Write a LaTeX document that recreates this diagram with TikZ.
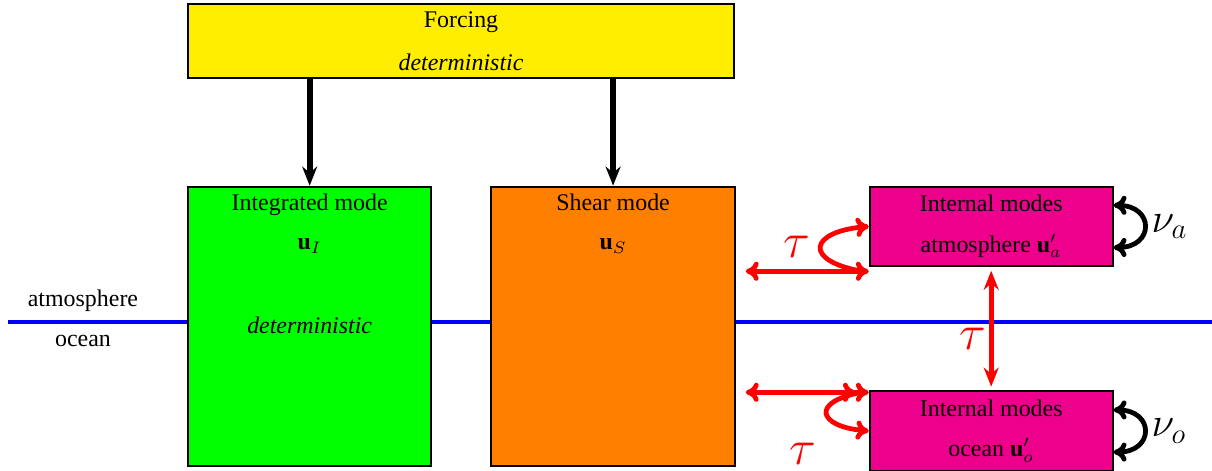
\documentclass[tikz,border=0pt]{standalone}
\usepackage{fontspec}
\setmainfont{Liberation Serif}
\usepackage{tikz}
\usetikzlibrary{positioning, arrows.meta, backgrounds, calc}
\definecolor{forcingyellow}{RGB}{255,238,0}
\definecolor{modegreen}{RGB}{0,255,0}
\definecolor{shearorange}{RGB}{255,128,0}
\definecolor{internalpink}{RGB}{236,0,140}
\definecolor{seablue}{RGB}{0,0,255}
\definecolor{Red}{rgb}{1,0,0}
\tikzstyle{box}=[%
      rectangle, draw=black, thick, align=center, inner sep=3pt
]
\tikzstyle{bigbox}=[%
      box, minimum width=3.58cm, minimum height=4.11cm
]
\tikzstyle{smallbox}=[%
      box, fill=internalpink, minimum width=3.57cm, minimum height=1.17cm
]
\tikzstyle{forcearrow}=[%
      line width=2.4pt, -{Stealth[length=2.8mm,width=2.2mm]}
]
\tikzstyle{taustress}=[%
      Red, line width=2pt
]
\tikzstyle{tautext}=[%
      text=Red, font=\huge
]
\tikzstyle{viscous}=[%
      black, line width=2pt, <->
]

\begin{document}
\begin{tikzpicture}[>={To[length=1.9mm,width=2.8mm]}]
    \useasboundingbox (0,0) rectangle (17.82,6.925);

    \node[box, fill=forcingyellow, minimum width=8.03cm, minimum height=1.06cm] (forcing) at (6.778,6.322)
         {Forcing\\[6pt]\textit{deterministic}};
    \node[bigbox, fill=modegreen, below=1.573cm of forcing.south west, anchor=north west] (integrated) {};
    \node[bigbox, fill=shearorange, right=0.853cm of integrated] (shear) {};
    \node[below=0pt of integrated.north, align=center] (integratedtext)
         {Integrated mode\\[4.3pt]$\mathbf{u}_I$\\[23pt]\textit{deterministic}};
    \node[below=0pt of shear.north, align=center] (sheartext)
         {Shear mode\\[4.3pt]$\mathbf{u}_S$};
    \node[smallbox, right=1.956cm of shear.north east, anchor=north west] (atmos)
         {Internal modes\\[5pt]atmosphere $\mathbf{u}'_a$};
    \node[smallbox, below=1.81cm of atmos] (ocean)
         {Internal modes\\[5pt]ocean $\mathbf{u}'_o$};

    % air-sea interface
    \coordinate (shore) at (0.118,2.191);
    \coordinate (horizon) at (17.82,2.191);
    \coordinate (interface) at (1.22,2.191);
    \begin{scope}[on background layer]
      \draw[seablue, line width=2pt] (shore) -- (horizon);
    \end{scope}
    \node[above=1pt of interface] (atmoslabel) {atmosphere};
    \node[below=2pt of interface] (oceanlabel) {ocean};

    \draw[forcearrow] (forcing.south -| integrated) -- (integrated);
    \draw[forcearrow] (forcing.south -| shear) -- (shear);

    % stress coupling
    \coordinate[below=0.06cm of atmos.south west] (atmoscorner);
    \coordinate[left=1.81cm of atmoscorner] (atmosstress);
    \coordinate[below=0.03cm of ocean.north west] (oceancorner);
    \coordinate[left=1.81cm of oceancorner] (oceanstress);
    \draw[taustress, <->] (atmosstress) -- (atmoscorner);
    \draw[taustress, ->] ([xshift=-0.1cm]atmoscorner) to[out=170, in=185, looseness=3.4]
         node[tautext, left] {$\tau$} (atmos.west);
    \draw[taustress, <->>] (oceanstress) -- (oceancorner);
    \draw[taustress, ->] ([xshift=-0.1cm]oceancorner) to[out=190, in=175, looseness=3.4] (ocean.west);
    \node[tautext, below left=0.06cm and 0.65cm of ocean.west] (oceantau) {$\tau$};
    \draw[taustress, {Stealth[length=2.8mm,width=2.2mm]}-{Stealth[length=2.8mm,width=2.2mm]},
          shorten <=1.5pt, shorten >=1.5pt] (atmos) --
         node[tautext, pos=0.58, left, inner sep=1pt] {$\tau$} (ocean);

    \draw[viscous] ([yshift=0.31cm]atmos.east) to[out=0, in=0, looseness=2.5]
         node[right, inner sep=2pt, font=\LARGE] {$\nu_a$} ([yshift=-0.31cm]atmos.east);
    \draw[viscous] ([yshift=0.31cm]ocean.east) to[out=0, in=0, looseness=2.5]
         node[right, inner sep=2pt, font=\LARGE] {$\nu_o$} ([yshift=-0.31cm]ocean.east);

\end{tikzpicture}
\end{document}
